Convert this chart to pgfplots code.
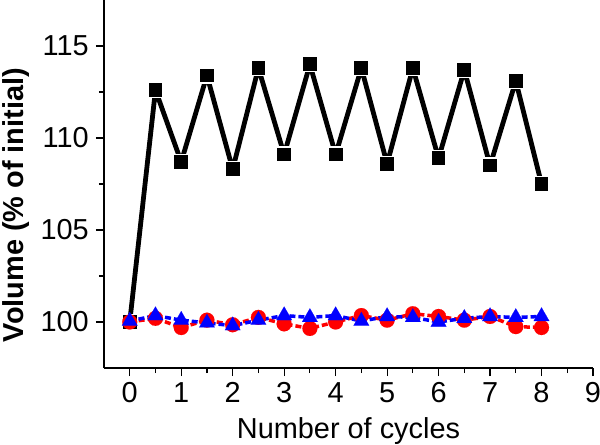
\documentclass[border=0pt]{standalone}
\usepackage{fontspec}
\setmainfont{Liberation Sans}
\usepackage{pgfplots}
\pgfplotsset{compat=1.18}
\begin{document}
\begin{tikzpicture}
\begin{axis}[
  scale only axis,
  width=489bp, height=368bp,
  xmin=-0.5, xmax=9, ymin=97.5, ymax=117.5,
  axis lines=left,
  axis line style={-, line width=1.3bp},
  every tick/.style={black, line width=1.2bp},
  tick align=outside,
  major tick length=8bp,
  minor tick length=5bp,
  xtick={0,1,...,9},
  ytick={100,105,110,115},
  minor x tick num=1,
  minor y tick num=1,
  /pgf/number format/assume math mode=true,
  tick label style={font=\fontsize{29}{34}\selectfont, inner sep=0pt},
  xticklabel style={yshift=-6bp},
  yticklabel style={xshift=-7bp},
  label style={font=\fontsize{29}{34}\selectfont, inner sep=0pt},
  xlabel={Number of cycles},
  ylabel={\bfseries Volume (\% of initial)},
  xlabel style={at={(axis description cs:0.5,-0.135)}, anchor=north},
  ylabel style={at={(axis description cs:-0.2086,0.4425)}, anchor=north, rotate=0},
  clip=false,
]
\addplot[black, line width=4.8bp, line join=round, line cap=round, mark=square*, mark size=7.5bp,
  mark options={fill=black, draw=white, line width=1.2bp, solid, line join=miter}]
  coordinates {
  (0,100.0) (0.5,112.6) (1,108.7) (1.5,113.4) (2,108.3) (2.5,113.8)
  (3,109.1) (3.5,114.0) (4,109.1) (4.5,113.8) (5,108.6) (5.5,113.8)
  (6,108.9) (6.5,113.7) (7,108.5) (7.5,113.1) (8,107.5)
  };
\addplot[red, line width=3.5bp, dash pattern=on 6bp off 3bp, mark=*, mark size=7.5bp,
  mark options={fill=red, draw=red, line width=0.1bp, solid}]
  coordinates {
  (0,100.0) (0.5,100.2) (1,99.7) (1.5,100.1) (2,99.85) (2.5,100.25)
  (3,99.9) (3.5,99.65) (4,100.0) (4.5,100.35) (5,100.1) (5.5,100.45)
  (6,100.3) (6.5,100.1) (7,100.3) (7.5,99.75) (8,99.7)
  };
\addplot[blue, line width=3.5bp, dash pattern=on 6bp off 3bp, mark=triangle*, mark size=9bp,
  mark options={fill=blue, draw=blue, line width=0.1bp, solid}]
  coordinates {
  (0,100.05) (0.5,100.35) (1,100.1) (1.5,99.95) (2,99.8) (2.5,100.1)
  (3,100.35) (3.5,100.25) (4,100.35) (4.5,100.05) (5,100.3) (5.5,100.25)
  (6,100.0) (6.5,100.2) (7,100.3) (7.5,100.25) (8,100.3)
  };
\end{axis}
\pgfresetboundingbox
\useasboundingbox (-104bp,-76.3bp) rectangle (496bp,368bp);
\end{tikzpicture}
\end{document}
